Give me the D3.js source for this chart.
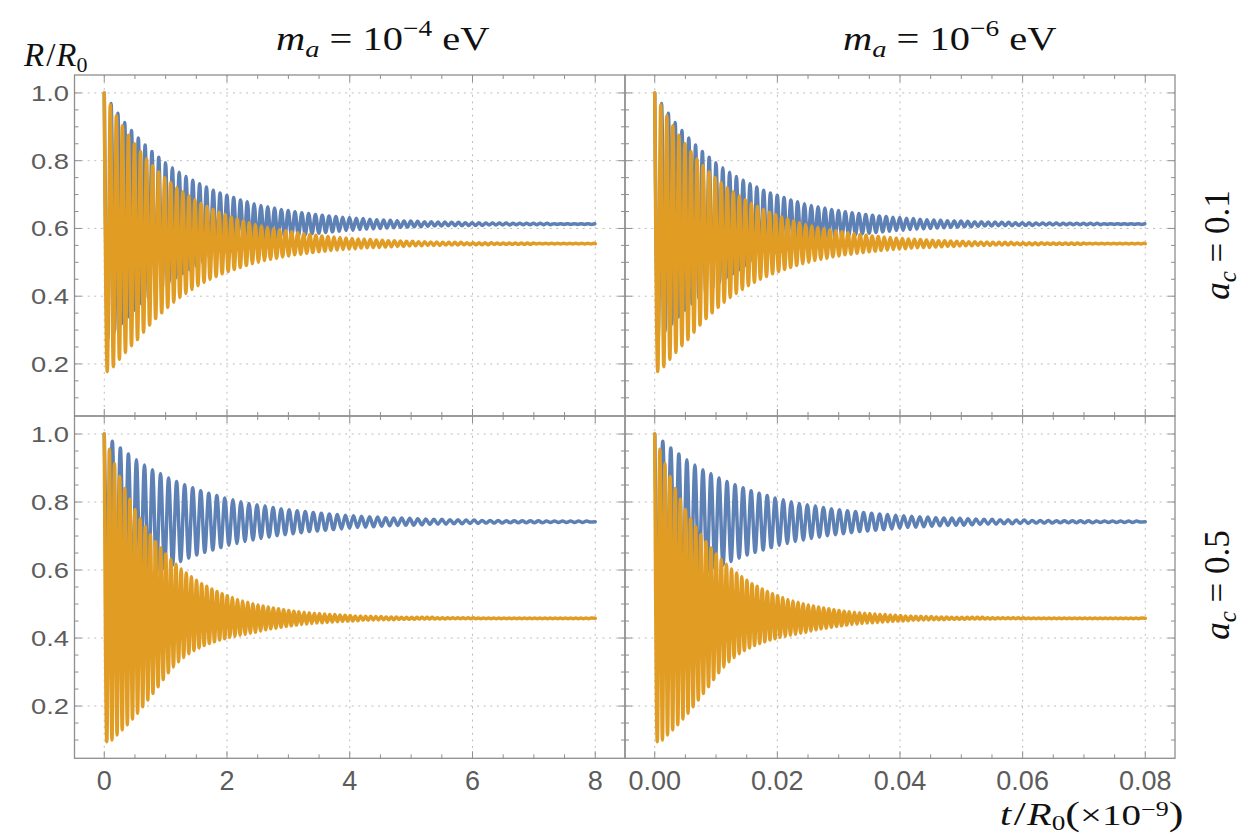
<!DOCTYPE html>
<html><head><meta charset="utf-8">
<script src="https://cdn.jsdelivr.net/npm/d3@7"></script>
<style>body{margin:0;background:#fff;} svg{display:block;}</style>
</head><body><svg id="chart" width="1250" height="834"></svg>
<script>
// ---------------- data ----------------
const xTicksLeft = [0, 2, 4, 6, 8];
const xTicksRight = [0, 0.02, 0.04, 0.06, 0.08];
const yTicks = [0.2, 0.4, 0.6, 0.8, 1.0];
const tEnd = 8;                 // last time of every curve (left-panel units)
const rightTimeFactor = 0.01;   // right panels: same curves, t scaled by 1e-2

// a_c = 0.1 (top row): successive maxima / minima of R/R0
const blueTopPeriod = 0.111;
const blueTopPeaks = [1.000,.969,.940,.913,.889,.867,.846,.827,.810,.794,
  .779,.766,.753,.742,.732,.722,.713,.705,.698,.691,
  .684,.679,.673,.668,.664,.660,.656,.653,.649,.646,
  .644,.641,.639,.637,.635,.633,.632,.630,.629,.627,
  .626,.625,.624,.623,.622,.622,.621,.620,.620,.619,
  .619,.618,.618,.617,.617,.617,.616,.616,.616,.616,
  .615,.615,.615,.615,.615,.615,.614,.614,.614,.614,.614,.614,.614];
const blueTopTroughs = [.272,.296,.318,.339,.359,.377,.394,.410,.424,.440,
  .454,.467,.478,.489,.499,.509,.517,.525,.532,.539,
  .545,.550,.555,.560,.564,.568,.572,.575,.578,.581,
  .584,.586,.588,.590,.592,.594,.595,.597,.598,.599,
  .600,.601,.602,.603,.604,.605,.605,.606,.607,.607,
  .608,.608,.608,.609,.609,.609,.610,.610,.610,.610,
  .611,.611,.611,.611,.611,.611,.612,.612,.612,.612,.612,.612];
const blueTopFinal = 0.613;

const orangeTopPeriod = 0.0985;
const orangeTopPeaks = [1.000,.965,.933,.903,.875,.850,.827,.805,.785,.767,
  .750,.735,.721,.708,.696,.685,.674,.665,.656,.648,
  .641,.634,.628,.622,.617,.612,.607,.603,.599,.596,
  .593,.590,.587,.584,.582,.580,.578,.576,.575,.573,
  .572,.570,.569,.568,.567,.566,.565,.564,.564,.563,
  .562,.562,.561,.561,.560,.560,.559,.559,.559,.559,
  .558,.558,.558,.558,.558,.557,.557,.557,.557,.557,
  .557,.557,.556,.556,.556,.556,.556,.556,.556,.556,.556,.556];
const orangeTopTroughs = [.178,.192,.214,.234,.254,.272,.294,.315,.334,.351,
  .367,.382,.396,.408,.420,.431,.441,.450,.458,.466,
  .473,.479,.485,.491,.496,.500,.505,.509,.512,.516,
  .519,.522,.524,.527,.529,.531,.533,.535,.536,.538,
  .539,.540,.542,.543,.544,.544,.545,.546,.547,.547,
  .548,.549,.549,.550,.550,.550,.551,.551,.551,.552,
  .552,.552,.552,.552,.553,.553,.553,.553,.553,.553,
  .553,.554,.554,.554,.554,.554,.554,.554,.554,.554,.554];
const orangeTopFinal = 0.555;

// a_c = 0.5 (bottom row)
const blueBottomPeriod = 0.131;
const blueBottomPeaks = [1.000,.979,.959,.941,.924,.909,.895,.883,.871,.860,
  .851,.842,.833,.826,.819,.812,.807,.801,.796,.792,
  .788,.784,.780,.777,.774,.772,.769,.767,.765,.763,
  .761,.760,.758,.757,.756,.754,.753,.753,.752,.751,
  .750,.749,.749,.748,.748,.747,.747,.746,.746,.746,
  .745,.745,.745,.745,.745,.744,.744,.744,.744,.744,.744];
const blueBottomTroughs = [.487,.509,.528,.546,.562,.577,.591,.603,.615,.625,
  .635,.644,.652,.659,.666,.673,.678,.684,.688,.693,
  .697,.701,.704,.707,.710,.713,.715,.717,.719,.721,
  .723,.725,.726,.727,.729,.730,.731,.732,.732,.733,
  .734,.735,.735,.736,.736,.737,.737,.738,.738,.738,
  .739,.739,.739,.739,.739,.740,.740,.740,.740,.740,.741];
const blueBottomFinal = 0.742;

const orangeBottomPeriod = 0.0835;
const orangeBottomPeaks = [1.000,.955,.913,.875,.840,.808,.778,.751,.727,.704,
  .683,.665,.647,.631,.617,.603,.591,.580,.570,.560,
  .552,.544,.537,.530,.524,.519,.513,.509,.505,.501,
  .497,.494,.491,.488,.486,.483,.481,.479,.477,.476,
  .474,.473,.472,.471,.469,.469,.468,.467,.466,.465,
  .465,.464,.464,.463,.463,.462,.462,.462,.461,.461,
  .461,.461,.461,.461,.461,.460,.460,.460,.460,.460,
  .460,.460,.460,.459,.459,.459,.459,.459,.459,.459,
  .459,.459,.459,.459,.459,.459,.459,.459,.459,.459,
  .459,.459,.459,.459,.459,.459];
const orangeBottomTroughs = [.095,.100,.115,.130,.145,.162,.179,.198,.218,.237,
  .257,.278,.298,.315,.330,.343,.354,.363,.371,.378,
  .384,.389,.394,.398,.402,.405,.408,.411,.414,.417,
  .421,.424,.427,.429,.432,.434,.436,.438,.440,.441,
  .443,.444,.445,.446,.447,.448,.449,.450,.450,.451,
  .452,.452,.453,.453,.454,.454,.454,.455,.455,.455,
  .455,.456,.456,.456,.456,.456,.456,.457,.457,.457,
  .457,.457,.457,.457,.457,.457,.457,.457,.457,.457,
  .457,.457,.457,.457,.457,.457,.457,.457,.457,.457,
  .457,.457,.457,.457,.457];
const orangeBottomFinal = 0.458;

// ---------------- drawing ----------------
const svg = d3.select('#chart');
const frameColor = '#8e8e8e', gridColor = '#bdbdbd', labelColor = '#5c5c5c';
const blue = '#5e81b5', orange = '#e19c24';

const cols = [
  {x0: 74.5, x1: 625, domain: [-0.485, 8.485], factor: 1, ticks: xTicksLeft, minorStep: 0.5, fmt: d3.format('d')},
  {x0: 625, x1: 1175, domain: [-0.00485, 0.08485], factor: rightTimeFactor, ticks: xTicksRight, minorStep: 0.005, fmt: d3.format('.2f')}
];
const yDomain = [0.0463, 1.053];
const rows = [
  {y0: 75, y1: 416, series: [
    {period: blueTopPeriod, peaks: blueTopPeaks, troughs: blueTopTroughs, fin: blueTopFinal, color: blue},
    {period: orangeTopPeriod, peaks: orangeTopPeaks, troughs: orangeTopTroughs, fin: orangeTopFinal, color: orange}]},
  {y0: 416, y1: 758.3, series: [
    {period: blueBottomPeriod, peaks: blueBottomPeaks, troughs: blueBottomTroughs, fin: blueBottomFinal, color: blue},
    {period: orangeBottomPeriod, peaks: orangeBottomPeaks, troughs: orangeBottomTroughs, fin: orangeBottomFinal, color: orange}]}
];

function curvePoints(s) {
  const pts = [];
  s.peaks.forEach((v, k) => {
    if (k * s.period <= tEnd) pts.push([k * s.period, v]);
    if (k < s.troughs.length && (k + 0.5) * s.period <= tEnd) pts.push([(k + 0.5) * s.period, s.troughs[k]]);
  });
  if (pts[pts.length - 1][0] < tEnd - 0.02) pts.push([tEnd, s.fin]);
  return pts;
}

const defs = svg.append('defs');
let clipId = 0;

rows.forEach((row, ri) => {
  const y = d3.scaleLinear().domain(yDomain).range([row.y1, row.y0]);
  const yMinor = d3.range(0.05, 1.051, 0.05).filter(v => Math.abs(y(v) - row.y0) > 2 && Math.abs(y(v) - row.y1) > 2);
  cols.forEach((col, ci) => {
    const x = d3.scaleLinear().domain(col.domain).range([col.x0, col.x1]);
    const g = svg.append('g');
    const xMinor = d3.range(0, col.ticks[col.ticks.length - 1] + col.minorStep * 1.01, col.minorStep)
      .filter(v => x(v) < col.x1 - 2);

    // grid
    g.selectAll('.gx').data(col.ticks).join('line')
      .attr('x1', d => x(d)).attr('x2', d => x(d)).attr('y1', row.y0).attr('y2', row.y1)
      .attr('stroke', gridColor).attr('stroke-width', 1).attr('stroke-dasharray', '2,4.6');
    g.selectAll('.gy').data(yTicks).join('line')
      .attr('y1', d => y(d)).attr('y2', d => y(d)).attr('x1', col.x0).attr('x2', col.x1)
      .attr('stroke', gridColor).attr('stroke-width', 1).attr('stroke-dasharray', '2,4.6');

    // curves
    const id = 'clip' + (clipId++);
    defs.append('clipPath').attr('id', id).append('rect')
      .attr('x', col.x0).attr('y', row.y0).attr('width', col.x1 - col.x0).attr('height', row.y1 - row.y0);
    const line = d3.line().x(d => x(d[0] * col.factor)).y(d => y(d[1])).curve(d3.curveMonotoneX);
    const cg = g.append('g').attr('clip-path', `url(#${id})`);
    row.series.forEach(s => {
      cg.append('path').attr('d', line(curvePoints(s)))
        .attr('fill', 'none').attr('stroke', s.color).attr('stroke-width', 3.5)
        .attr('stroke-linejoin', 'round').attr('stroke-linecap', 'round');
    });

    // frame
    g.append('rect').attr('x', col.x0).attr('y', row.y0)
      .attr('width', col.x1 - col.x0).attr('height', row.y1 - row.y0)
      .attr('fill', 'none').attr('stroke', frameColor).attr('stroke-width', 1.3);

    // ticks (inward on all four sides)
    const tk = g.append('g').attr('stroke', frameColor).attr('stroke-width', 1);
    const xt = col.ticks.map(v => ({v, len: 7})).concat(xMinor.filter(v => !col.ticks.some(t => Math.abs(t - v) < 1e-9)).map(v => ({v, len: 4})));
    xt.forEach(t => {
      tk.append('line').attr('x1', x(t.v)).attr('x2', x(t.v)).attr('y1', row.y1).attr('y2', row.y1 - t.len);
      tk.append('line').attr('x1', x(t.v)).attr('x2', x(t.v)).attr('y1', row.y0).attr('y2', row.y0 + t.len);
    });
    const yt = yTicks.map(v => ({v, len: 7})).concat(yMinor.filter(v => !yTicks.some(t => Math.abs(t - v) < 1e-9)).map(v => ({v, len: 4})));
    yt.forEach(t => {
      tk.append('line').attr('y1', y(t.v)).attr('y2', y(t.v)).attr('x1', col.x0).attr('x2', col.x0 + t.len);
      tk.append('line').attr('y1', y(t.v)).attr('y2', y(t.v)).attr('x1', col.x1).attr('x2', col.x1 - t.len);
    });

    // tick labels
    if (ci === 0) {
      g.selectAll('.yl').data(yTicks).join('text')
        .attr('x', 69).attr('y', d => y(d) + 8)
        .attr('text-anchor', 'end').attr('font-family', 'Liberation Sans, Arial, sans-serif')
        .attr('font-size', 22).attr('fill', labelColor)
        .attr('textLength', 38).attr('lengthAdjust', 'spacingAndGlyphs')
        .text(d => d3.format('.1f')(d));
    }
    if (ri === 1) {
      g.selectAll('.xl').data(col.ticks).join('text')
        .attr('x', d => x(d)).attr('y', 790)
        .attr('text-anchor', 'middle').attr('font-family', 'Liberation Sans, Arial, sans-serif')
        .attr('font-size', 27).attr('fill', labelColor)
        .text(d => col.fmt(d));
    }
  });
});

// ---------------- titles and axis labels ----------------
const serif = 'Liberation Serif, Times New Roman, serif';
function mathText(parent, x, y, parts, anchor) {
  const t = parent.append('text').attr('x', x).attr('y', y).attr('font-family', serif)
    .attr('fill', '#111').attr('text-anchor', anchor || 'start');
  parts.forEach(p => {
    const s = t.append('tspan').text(p.t).attr('font-size', p.size);
    if (p.it) s.attr('font-style', 'italic');
    if (p.dy) s.attr('dy', p.dy);
    if (p.dx) s.attr('dx', p.dx);
  });
  return t;
}
[['\u22124', 276], ['\u22126', 843]].forEach(([ex, x0]) => {
  const g = svg.append('g').attr('transform', `translate(${x0},50) scale(1.19,1)`);
  mathText(g, 0, 0, [
    {t: 'm', it: true, size: 34}, {t: 'a', it: true, size: 24, dy: 7},
    {t: ' = 10', size: 34, dy: -7}, {t: ex, size: 23, dy: -14}, {t: ' eV', size: 34, dy: 14}
  ]);
});
mathText(svg, 24, 66, [
  {t: 'R', it: true, size: 33}, {t: '/', size: 33, dx: 2}, {t: 'R', it: true, size: 33, dx: 1},
  {t: '0', size: 22, dy: 6}
]);
{
  const g = svg.append('g').attr('transform', 'translate(1000,825) scale(1.3,1)');
  mathText(g, 0, 0, [
    {t: 't', it: true, size: 31}, {t: '/', size: 33, dx: 2}, {t: 'R', it: true, size: 31, dx: 1},
    {t: '0', size: 21, dy: 5}, {t: '(', size: 34, dy: -5}, {t: '\u00d710', size: 30},
    {t: '\u22129', size: 20, dy: -9}, {t: ')', size: 34, dy: 9}
  ]);
}
[['0.1', 245], ['0.5', 585]].forEach(([v, cy]) => {
  const g = svg.append('g').attr('transform', `translate(1229,${cy}) rotate(-90)`);
  mathText(g, 0, 0, [
    {t: 'a', it: true, size: 35}, {t: 'c', it: true, size: 25, dy: 7}, {t: ' = ' + v, size: 35, dy: -7}
  ], 'middle');
});
</script></body></html>
